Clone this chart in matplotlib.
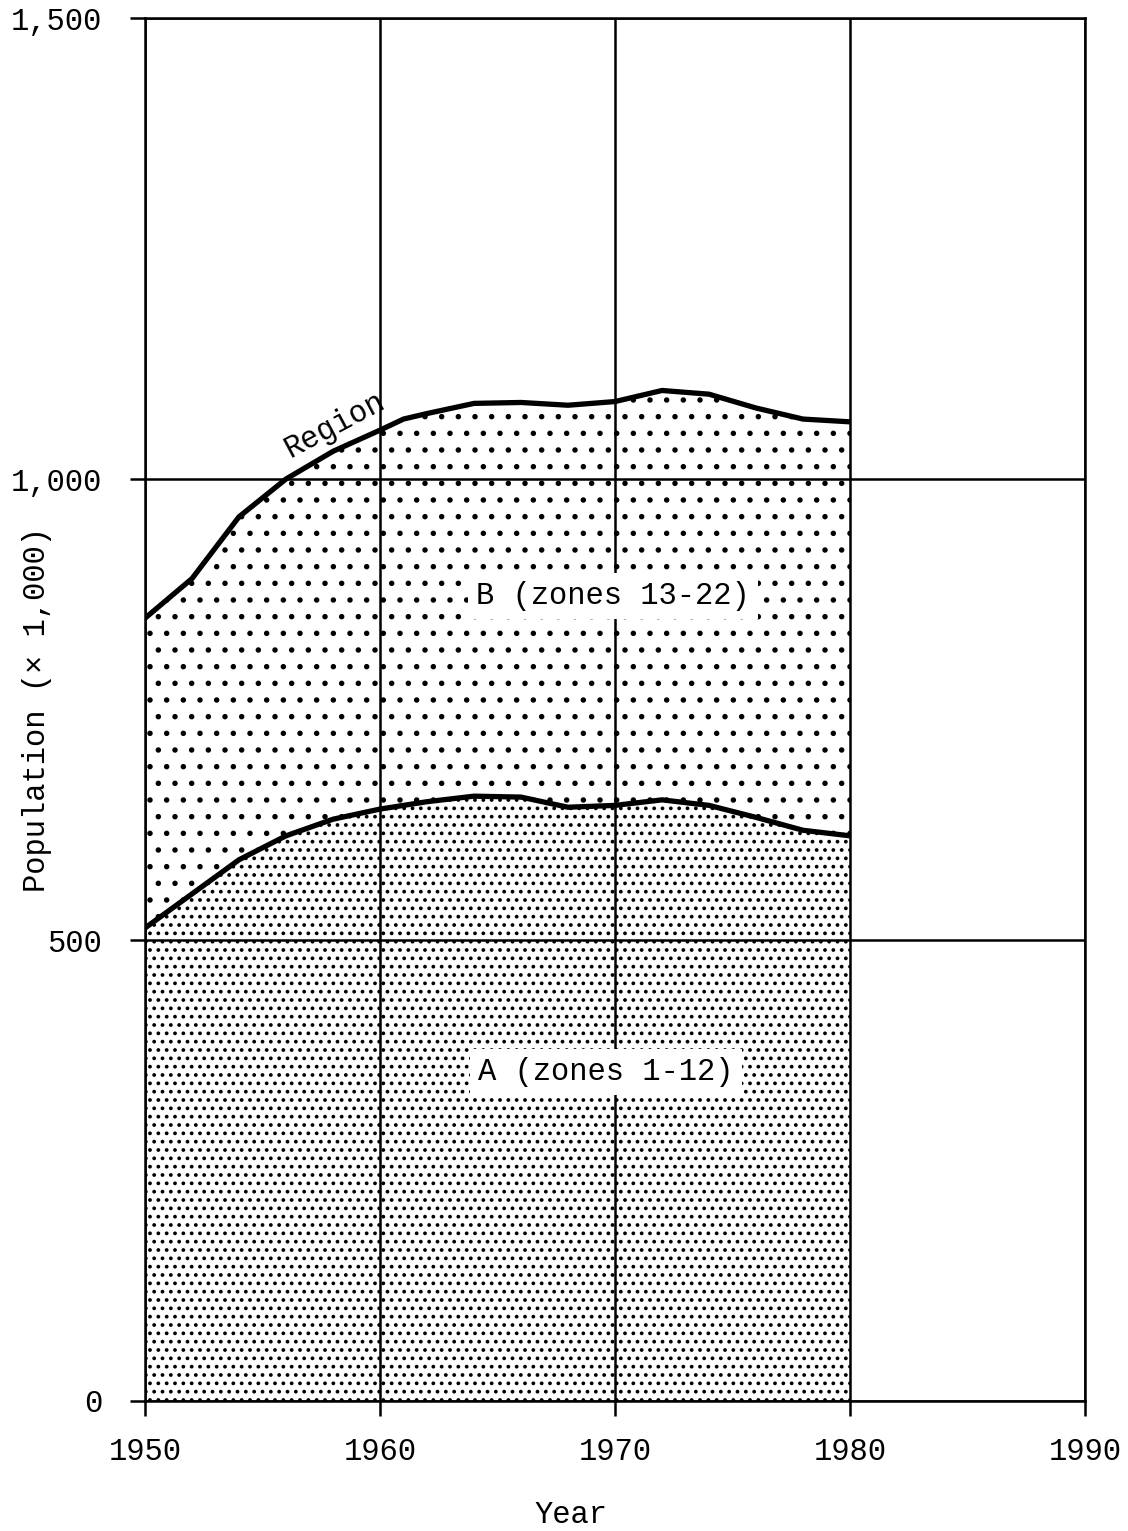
import numpy as np
import matplotlib
matplotlib.use("Agg")
import matplotlib.pyplot as plt

# === Data (population x 1,000) ===
years = [1950, 1952, 1954, 1956, 1958, 1960, 1961, 1962, 1964, 1966, 1968, 1970, 1972, 1974, 1976, 1978, 1980]
region = [849, 892, 959, 1000, 1030, 1053, 1065, 1071, 1082, 1083, 1080, 1084, 1096, 1092, 1077, 1065, 1062]
zone_a = [513, 550, 587, 613, 631, 642, 646, 650, 656, 655, 644, 646, 652, 646, 633, 619, 613]

x_ticks = [1950, 1960, 1970, 1980, 1990]
y_ticks = [0, 500, 1000, 1500]
y_tick_labels = ["0", "500", "1,000", "1,500"]

plt.rcParams["font.family"] = ["Liberation Mono", "DejaVu Sans Mono"]
plt.rcParams["hatch.linewidth"] = 1.5

fig = plt.figure(figsize=(11.28, 15.31), dpi=100)
ax = fig.add_axes([145 / 1128, 1 - 1401 / 1531, 940 / 1128, 1383 / 1531])

# === Fills
ax.fill_between(years, 0, zone_a, facecolor="white", edgecolor="black", hatch="..", linewidth=0, zorder=1)
ax.fill_between(years, zone_a, region, facecolor="white", edgecolor="black", hatch=".", linewidth=0, zorder=1)

# === Lines
ax.plot(years, region, color="black", linewidth=3.8, zorder=4, solid_capstyle="butt")
ax.plot(years, zone_a, color="black", linewidth=3.8, zorder=4, solid_capstyle="butt")

# === Grid / axes
ax.set_xlim(1950, 1990)
ax.set_ylim(0, 1500)
ax.set_xticks(x_ticks)
ax.set_yticks(y_ticks)
ax.set_yticklabels(y_tick_labels)
ax.grid(True, color="black", linewidth=1.8, zorder=2)
ax.set_axisbelow(False)
for s in ax.spines.values():
    s.set_linewidth(1.8)
    s.set_zorder(3)
ax.tick_params(axis="both", direction="out", length=11, width=1.8, labelsize=22)
ax.tick_params(axis="y", pad=20)
ax.tick_params(axis="x", pad=15)

ax.set_ylabel("Population (× 1,000)", fontsize=22, va="center")
ax.yaxis.set_label_coords((37 - 145) / 940, 0.5)
ax.set_xlabel("Year", fontsize=22, va="center")
ax.xaxis.set_label_coords((571 - 145) / 940, (1401 - 1515) / 1383)

# === Labels
box = dict(facecolor="white", edgecolor="none", pad=6)
ax.text(1969.9, 873, "B (zones 13-22)", fontsize=22, ha="center", va="center", bbox=box, zorder=5)
ax.text(1969.6, 357, "A (zones 1-12)", fontsize=22, ha="center", va="center", bbox=box, zorder=5)
ax.text(1958.1, 1058, "Region", fontsize=22, ha="center", va="center", rotation=28, rotation_mode="anchor", zorder=5)

fig.savefig("out.png", dpi=100)
